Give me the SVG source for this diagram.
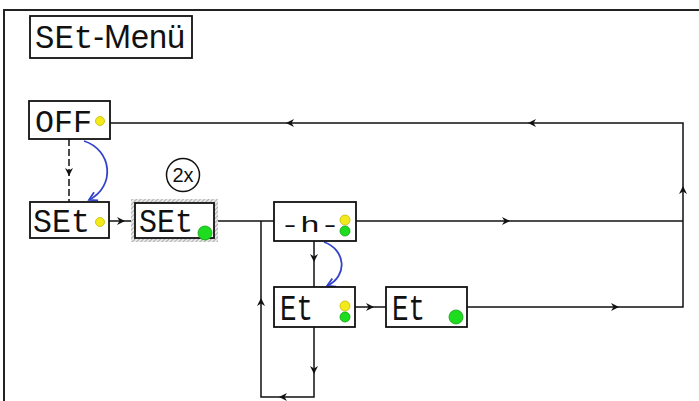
<svg xmlns="http://www.w3.org/2000/svg" xmlns:xlink="http://www.w3.org/1999/xlink" width="699" height="401" viewBox="0 0 699 401">
<style>
.box{fill:#fff;stroke:#111;stroke-width:1.8}
.seg{font-family:"Liberation Mono","DejaVu Sans Mono",monospace;fill:#111}
.ln{fill:none;stroke:#111;stroke-width:1.5}
.blue{fill:none;stroke:#3344cc;stroke-width:1.8}
.yel{fill:#f2ea1a;stroke:#c8b800;stroke-width:0.8}
.grn{fill:#1edc1e;stroke:#13a013;stroke-width:0.8}
.ah{fill:#111}
</style>
<defs>
<path id="ah" d="M-4,-4 L4,0 L-4,4 L-1.5,0 Z"/>
<marker id="bh" markerWidth="12" markerHeight="12" refX="9" refY="6" orient="auto" markerUnits="userSpaceOnUse">
<path d="M1,1.5 L9,6 L1,10.5" fill="none" stroke="#3344cc" stroke-width="1.8"/>
</marker>
<pattern id="hatch" width="3" height="3" patternUnits="userSpaceOnUse" patternTransform="rotate(45)">
<rect width="3" height="3" fill="#e8e8e8"/>
<line x1="0" y1="0" x2="0" y2="3" stroke="#888" stroke-width="1.2"/>
</pattern>
</defs>
<rect width="699" height="401" fill="#fff"/>
<path d="M4,401 V10 H699" fill="none" stroke="#222" stroke-width="2"/>

<g id="title">
<rect x="30" y="16" width="162" height="42" class="box" stroke-width="1.5"/>
<text x="35" y="48" fill="#111" textLength="150" lengthAdjust="spacingAndGlyphs"><tspan class="seg" font-size="34">SEt</tspan><tspan font-family="Liberation Sans,Arial,sans-serif" font-size="34">-Menü</tspan></text>
</g>

<g id="connectors">
<path class="ln" d="M110,123 H683 V307 H467"/>
<path class="ln" d="M355,221 H683"/>
<path class="ln" d="M109,221 H135"/>
<path class="ln" d="M214,221 H274"/>
<path class="ln" d="M261,221 V397 H314 V327"/>
<path class="ln" d="M314,241 V287"/>
<path class="ln" d="M355,307 H386"/>
<path class="ln" d="M69,139 V202" stroke-dasharray="7,3"/>
<path class="blue" d="M84,141 C112,150 116,186 89,200" marker-end="url(#bh)"/>
<path class="blue" d="M324,242 C346,250 348,276 327,286" marker-end="url(#bh)"/>
<use href="#ah" class="ah" transform="translate(69,172) rotate(90)"/>
<use href="#ah" class="ah" transform="translate(121,221)"/>
<use href="#ah" class="ah" transform="translate(370,307)"/>
<use href="#ah" class="ah" transform="translate(314,370) rotate(90)"/>
<use href="#ah" class="ah" transform="translate(314,258) rotate(90)"/>
<use href="#ah" class="ah" transform="translate(283,397) rotate(180)"/>
<use href="#ah" class="ah" transform="translate(261,302) rotate(-90)"/>
<use href="#ah" class="ah" transform="translate(506,221)"/>
<use href="#ah" class="ah" transform="translate(615,307)"/>
<use href="#ah" class="ah" transform="translate(683,190) rotate(-90)"/>
<use href="#ah" class="ah" transform="translate(532,123) rotate(180)"/>
<use href="#ah" class="ah" transform="translate(290,123) rotate(180)"/>
</g>

<g id="off">
<rect x="29" y="101" width="81" height="38" class="box"/>
<text x="35" y="132" class="seg" font-size="32" textLength="57" lengthAdjust="spacingAndGlyphs">OFF</text>
<circle cx="100" cy="121" r="4.5" class="yel"/>
</g>

<g id="set1">
<rect x="30" y="202" width="79" height="36" class="box"/>
<text x="33" y="232" class="seg" font-size="34" textLength="57" lengthAdjust="spacingAndGlyphs">SEt</text>
<circle cx="100" cy="222" r="4.5" class="yel"/>
</g>

<g id="set2">
<rect x="131" y="199" width="87" height="43" fill="url(#hatch)"/>
<rect x="135" y="203" width="79" height="35" class="box"/>
<text x="139" y="232" class="seg" font-size="34" textLength="54" lengthAdjust="spacingAndGlyphs">SEt</text>
<circle cx="205" cy="233" r="7" class="grn"/>
</g>

<g id="count">
<circle cx="183" cy="175" r="16.5" fill="#fff" stroke="#111" stroke-width="1.5"/>
<text x="183" y="182" text-anchor="middle" font-family="Liberation Sans,Arial,sans-serif" font-size="20" fill="#111">2x</text>
</g>

<g id="h">
<rect x="274" y="202" width="82" height="39" class="box"/>
<text x="280" y="232" class="seg" font-size="22" textLength="60" lengthAdjust="spacingAndGlyphs">-h-</text>
<circle cx="345" cy="220" r="5" class="yel"/>
<circle cx="345" cy="231" r="5" class="grn"/>
</g>

<g id="et1">
<rect x="274" y="287" width="81" height="40" class="box"/>
<text x="280" y="320" class="seg" font-size="36" textLength="33" lengthAdjust="spacingAndGlyphs">Et</text>
<circle cx="345" cy="306" r="5" class="yel"/>
<circle cx="345" cy="317" r="5" class="grn"/>
</g>

<g id="et2">
<rect x="386" y="287" width="81" height="40" class="box"/>
<text x="392" y="320" class="seg" font-size="36" textLength="33" lengthAdjust="spacingAndGlyphs">Et</text>
<circle cx="456" cy="317" r="7" class="grn"/>
</g>
</svg>
